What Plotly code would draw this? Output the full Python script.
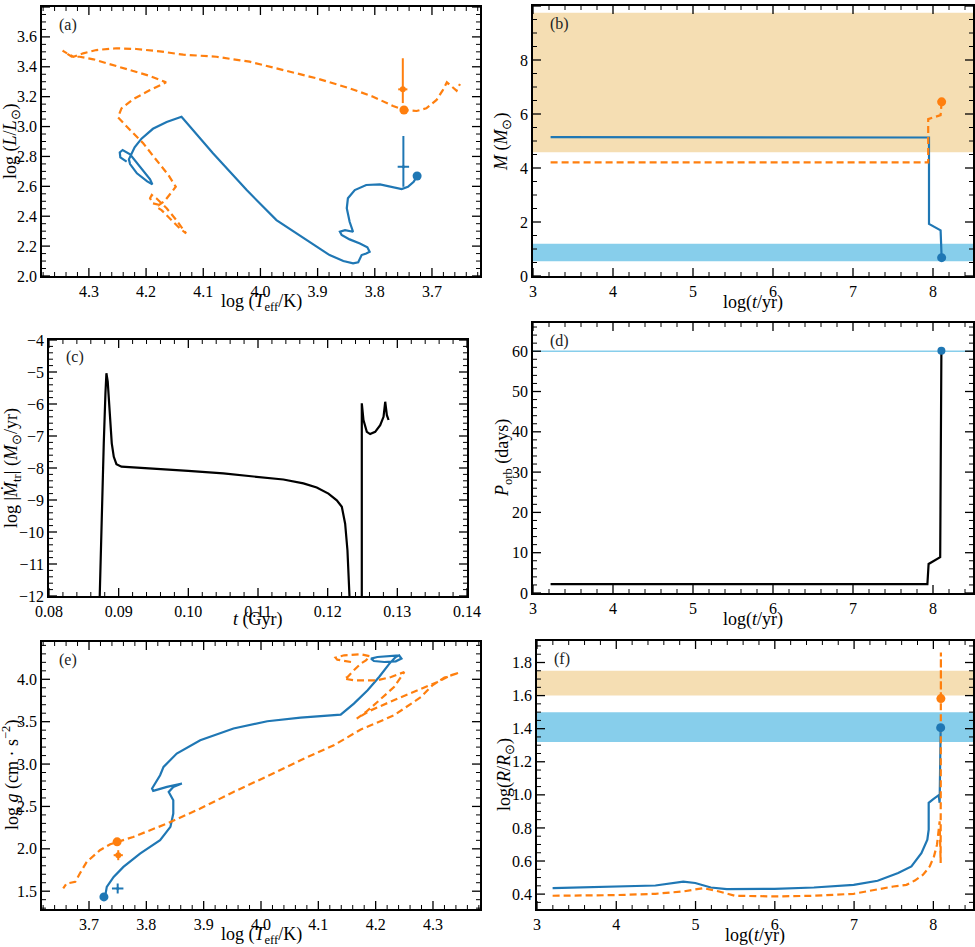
import plotly.graph_objects as go

W, H = 975, 947
BLUE = "#1f77b4"
ORANGE = "#ff7f0e"
TAN = "#f5deb3"
SKY = "#87ceeb"
FONT = "Liberation Serif"

# ---------------- data ----------------
# (a) HR diagram
donor_hr_logT = [4.234, 4.245, 4.246, 4.241, 4.228, 4.211, 4.193, 4.189, 4.198, 4.216, 4.228, 4.230,
                 4.220, 4.208, 4.188, 4.164, 4.138, 4.083, 4.024, 3.972, 3.919, 3.879, 3.855, 3.838,
                 3.829, 3.823, 3.815, 3.809, 3.813, 3.826, 3.844, 3.858, 3.861, 3.852, 3.838, 3.844,
                 3.849, 3.847, 3.835, 3.815, 3.791, 3.771, 3.753, 3.742, 3.732, 3.726]
donor_hr_logL = [2.765, 2.794, 2.827, 2.843, 2.814, 2.736, 2.647, 2.613, 2.633, 2.687, 2.749, 2.781,
                 2.861, 2.919, 2.985, 3.030, 3.066, 2.821, 2.575, 2.374, 2.240, 2.140, 2.100, 2.085,
                 2.092, 2.140, 2.151, 2.162, 2.192, 2.218, 2.245, 2.274, 2.296, 2.307, 2.296, 2.363,
                 2.453, 2.520, 2.575, 2.609, 2.613, 2.597, 2.582, 2.597, 2.631, 2.669]
accretor_hr_logT = [4.176, 4.188, 4.193, 4.190, 4.182, 4.164, 4.147, 4.130, 4.141, 4.158, 4.173, 4.182,
                    4.167, 4.148, 4.161, 4.182, 4.205, 4.228, 4.249, 4.243, 4.223, 4.193, 4.165, 4.193,
                    4.228, 4.263, 4.292, 4.316, 4.330, 4.339, 4.346, 4.336, 4.327, 4.319, 4.310, 4.287,
                    4.252, 4.217, 4.176, 4.135, 4.077, 4.019, 3.960, 3.902, 3.844, 3.803, 3.768, 3.749,
                    3.727, 3.710, 3.692, 3.681, 3.674, 3.666, 3.657, 3.651]
accretor_hr_logL = [2.475, 2.486, 2.520, 2.542, 2.520, 2.453, 2.374, 2.285, 2.319, 2.386, 2.441, 2.463,
                    2.504, 2.597, 2.676, 2.776, 2.888, 2.977, 3.062, 3.122, 3.182, 3.244, 3.296, 3.338,
                    3.378, 3.418, 3.450, 3.467, 3.467, 3.490, 3.508, 3.485, 3.467, 3.477, 3.490, 3.512,
                    3.524, 3.519, 3.503, 3.481, 3.467, 3.434, 3.378, 3.323, 3.256, 3.200, 3.137, 3.111,
                    3.104, 3.122, 3.178, 3.244, 3.296, 3.267, 3.240, 3.285]
model_logT = [3.726, 3.749]          # final model: donor, accretor
model_logL = [2.669, 3.111]
model_logg = [1.433, 2.082]
obs_logT = [3.750, 3.751]            # observed: donor, accretor
obs_logT_err = [0.010, 0.008]
obs_logL = [2.731, 3.249]
obs_logL_up = [0.206, 0.208]
obs_logL_dn = [0.134, 0.092]
obs_logg = [1.532, 1.925]
obs_logg_err = [0.059, 0.059]

# (b) masses
donor_m_logt = [3.22, 7.85, 7.93, 7.95, 7.95, 8.095, 8.108]
donor_m = [5.14, 5.14, 5.13, 5.13, 1.93, 1.69, 0.68]
accretor_m_logt = [3.22, 7.94, 7.94, 8.095, 8.095, 8.108]
accretor_m = [4.21, 4.21, 5.81, 5.96, 5.96, 6.45]
donor_m_obs = [0.55, 1.19]
accretor_m_obs = [4.58, 9.75]

# (c) mass-transfer rate
mt_t1 = [0.08728, 0.08757, 0.08786, 0.08810, 0.08824, 0.08843, 0.08872, 0.08901, 0.08930, 0.08968,
         0.09040, 0.09447, 0.09998, 0.10502, 0.11005, 0.11364, 0.11652, 0.11843, 0.12011, 0.12131,
         0.12203, 0.12251, 0.12284, 0.12313]
mt_rate1 = [-12.0, -9.32, -7.23, -5.67, -5.04, -5.30, -6.40, -7.23, -7.65, -7.88,
            -7.96, -8.01, -8.09, -8.17, -8.28, -8.36, -8.48, -8.61, -8.80, -9.01,
            -9.21, -9.74, -10.57, -12.0]
mt_t2 = [0.12490, 0.12490, 0.12514, 0.12562, 0.12610, 0.12682, 0.12754, 0.12802, 0.12826, 0.12850, 0.12874]
mt_rate2 = [-12.0, -5.98, -6.50, -6.87, -6.94, -6.87, -6.66, -6.40, -5.93, -6.35, -6.50]

# (d) orbital period
porb_logt = [3.22, 7.93, 7.945, 8.09, 8.105]
porb_days = [2.2, 2.2, 7.2, 8.9, 60.5]
porb_model = 60.1
porb_obs = 60.0

# (e) log g tracks
donor_g_logT = [3.728, 3.731, 3.743, 3.760, 3.789, 3.824, 3.842, 3.847, 3.847, 3.842, 3.839, 3.847,
                3.862, 3.836, 3.812, 3.810, 3.818, 3.824, 3.830, 3.853, 3.894, 3.952, 4.011, 4.069,
                4.139, 4.162, 4.186, 4.206, 4.224, 4.235, 4.241, 4.245, 4.235, 4.215, 4.197, 4.192,
                4.203, 4.241]
donor_g_logg = [1.433, 1.551, 1.669, 1.787, 1.944, 2.101, 2.259, 2.416, 2.573, 2.632, 2.671, 2.730,
                2.770, 2.730, 2.683, 2.711, 2.801, 2.868, 2.966, 3.124, 3.281, 3.419, 3.505, 3.548,
                3.583, 3.713, 3.870, 4.027, 4.185, 4.263, 4.283, 4.244, 4.212, 4.204, 4.216, 4.244,
                4.263, 4.283]
accretor_g_logT = [4.157, 4.133, 4.130, 4.145, 4.174, 4.190, 4.183, 4.174, 4.162, 4.151, 4.145, 4.162,
                   4.203, 4.227, 4.250, 4.232, 4.203, 4.183, 4.167, 4.189, 4.238, 4.279, 4.308, 4.331,
                   4.346, 4.320, 4.299, 4.279, 4.232, 4.174, 4.127, 4.069, 4.011, 3.952, 3.894, 3.836,
                   3.777, 3.750, 3.737, 3.719, 3.696, 3.684, 3.676, 3.661, 3.655]
accretor_g_logg = [4.204, 4.232, 4.256, 4.283, 4.295, 4.271, 4.224, 4.185, 4.106, 4.027, 4.008, 3.988,
                   3.988, 4.027, 4.086, 3.909, 3.732, 3.614, 3.536, 3.626, 3.772, 3.890, 3.969, 4.047,
                   4.079, 4.020, 3.929, 3.791, 3.575, 3.407, 3.222, 3.045, 2.856, 2.671, 2.475, 2.298,
                   2.140, 2.082, 2.054, 1.983, 1.846, 1.709, 1.610, 1.591, 1.532]

# (f) radii
donor_r_logt = [3.197, 3.996, 4.494, 4.845, 4.996, 5.193, 5.394, 5.996, 6.493, 6.995, 7.297, 7.556,
                7.723, 7.849, 7.924, 7.941, 7.941, 7.995, 8.067, 8.079, 8.092]
donor_logR = [0.436, 0.446, 0.452, 0.476, 0.467, 0.440, 0.430, 0.432, 0.440, 0.456, 0.481, 0.527,
              0.567, 0.648, 0.729, 0.790, 0.952, 0.972, 0.998, 0.952, 1.406]
accretor_r_logt = [3.197, 3.996, 4.494, 4.845, 5.096, 5.297, 5.494, 5.996, 6.493, 6.995, 7.494, 7.661,
                   7.766, 7.870, 7.954, 8.008, 8.046, 8.067, 8.079, 8.092, 8.095, 8.095]
accretor_logR = [0.390, 0.394, 0.402, 0.416, 0.436, 0.416, 0.390, 0.386, 0.390, 0.402, 0.446, 0.456,
                 0.482, 0.517, 0.567, 0.628, 0.699, 0.770, 0.840, 0.588, 1.861, 1.582]
donor_r_obs = [1.32, 1.50]
accretor_r_obs = [1.60, 1.75]

# ---------------- layout helpers ----------------
# plot-area boxes in pixels: (left, right, top, bottom)
boxes = {
    1: (42, 480, 7, 276),
    2: (533, 973, 6, 276),
    3: (49, 467, 340, 596),
    4: (533, 973, 323, 593),
    5: (42, 480, 642, 909),
    6: (537, 973, 641, 909),
}
shapes = []


def sfx_of(n):
    return "" if n == 1 else str(n)


def tick_marks(n, which, rng, dtick, minor):
    # inward major/minor ticks on both sides of the frame
    l, r, t, b = boxes[n]
    s = sfx_of(n)
    span = (b - t) if which == "x" else (r - l)
    lo, hi = min(rng), max(rng)
    k0 = int(lo / minor) - 1
    k1 = int(hi / minor) + 1
    for k in range(k0, k1 + 1):
        v = k * minor
        if v < lo - 1e-9 or v > hi + 1e-9:
            continue
        major = abs(v / dtick - round(v / dtick)) < 1e-6
        frac = (8 if major else 4) / span
        w = 1.3 if major else 1.0
        for a0, a1 in ((0, frac), (1 - frac, 1)):
            if which == "x":
                shapes.append(dict(type="line", xref="x" + s, yref="y" + s + " domain",
                                   x0=v, x1=v, y0=a0, y1=a1, line=dict(color="black", width=w)))
            else:
                shapes.append(dict(type="line", yref="y" + s, xref="x" + s + " domain",
                                   y0=v, y1=v, x0=a0, x1=a1, line=dict(color="black", width=w)))


def axis(n, which, rng, dtick, minor, fmt=None):
    l, r, t, b = boxes[n]
    dom = [l / W, r / W] if which == "x" else [1 - b / H, 1 - t / H]
    tick_marks(n, which, rng, dtick, minor)
    d = dict(
        domain=dom, range=rng, dtick=dtick,
        showline=True, linecolor="black", linewidth=1.5, mirror=True,
        ticks="", showgrid=False, zeroline=False, automargin=False,
        tickfont=dict(family=FONT, size=16, color="black"),
        anchor=("y" if which == "x" else "x") + sfx_of(n),
    )
    if fmt:
        d["tickformat"] = fmt
    return d


fig = go.Figure()


def line(n, x, y, color, dash=None, width=2.2):
    s = sfx_of(n)
    fig.add_trace(go.Scatter(x=x, y=y, mode="lines", xaxis="x" + s, yaxis="y" + s,
                             line=dict(color=color, width=width, dash=dash), showlegend=False,
                             hoverinfo="skip"))


def dot(n, x, y, color, size=9):
    s = sfx_of(n)
    fig.add_trace(go.Scatter(x=x, y=y, mode="markers", xaxis="x" + s, yaxis="y" + s,
                             marker=dict(color=color, size=size), showlegend=False, hoverinfo="skip"))


def obs(n, x, xerr, y, yup, ydn, color, size):
    s = sfx_of(n)
    fig.add_trace(go.Scatter(
        x=[x], y=[y], mode="markers", xaxis="x" + s, yaxis="y" + s,
        marker=dict(color=color, size=size),
        error_x=dict(type="data", array=[xerr], color=color, thickness=2, width=0),
        error_y=dict(type="data", symmetric=False, array=[yup], arrayminus=[ydn],
                     color=color, thickness=2, width=0),
        showlegend=False, hoverinfo="skip"))


def band(n, lo, hi, color):
    s = sfx_of(n)
    shapes.append(dict(type="rect", xref="x" + s + " domain", yref="y" + s,
                       x0=0, x1=1, y0=lo, y1=hi, fillcolor=color, opacity=1,
                       line=dict(width=0), layer="below"))


DASH = "7px,4px"

# (a)
line(1, donor_hr_logT, donor_hr_logL, BLUE)
line(1, accretor_hr_logT, accretor_hr_logL, ORANGE, DASH)
dot(1, [model_logT[0]], [model_logL[0]], BLUE)
dot(1, [model_logT[1]], [model_logL[1]], ORANGE)
obs(1, obs_logT[0], obs_logT_err[0], obs_logL[0], obs_logL_up[0], obs_logL_dn[0], BLUE, 3)
obs(1, obs_logT[1], obs_logT_err[1], obs_logL[1], obs_logL_up[1], obs_logL_dn[1], ORANGE, 6)

# (b)
band(2, *accretor_m_obs, TAN)
band(2, *donor_m_obs, SKY)
line(2, donor_m_logt, donor_m, BLUE)
line(2, accretor_m_logt, accretor_m, ORANGE, DASH)
dot(2, [donor_m_logt[-1]], [donor_m[-1]], BLUE)
dot(2, [accretor_m_logt[-1]], [accretor_m[-1]], ORANGE)

# (c)
line(3, mt_t1, mt_rate1, "black")
line(3, mt_t2, mt_rate2, "black")

# (d)
shapes.append(dict(type="line", xref="x4 domain", yref="y4", x0=0, x1=1, y0=porb_obs, y1=porb_obs,
                   line=dict(color=SKY, width=1.5), layer="below"))
line(4, porb_logt, porb_days, "black")
dot(4, [porb_logt[-1]], [porb_model], BLUE, 8)

# (e)
line(5, donor_g_logT, donor_g_logg, BLUE)
line(5, accretor_g_logT, accretor_g_logg, ORANGE, DASH)
dot(5, [model_logT[0]], [model_logg[0]], BLUE)
dot(5, [model_logT[1]], [model_logg[1]], ORANGE)
obs(5, obs_logT[0], obs_logT_err[0], obs_logg[0], obs_logg_err[0], obs_logg_err[0], BLUE, 3)
obs(5, obs_logT[1], obs_logT_err[1], obs_logg[1], obs_logg_err[1], obs_logg_err[1], ORANGE, 6)

# (f)
band(6, *accretor_r_obs, TAN)
band(6, *donor_r_obs, SKY)
line(6, donor_r_logt, donor_logR, BLUE)
line(6, accretor_r_logt, accretor_logR, ORANGE, DASH)
dot(6, [donor_r_logt[-1]], [donor_logR[-1]], BLUE)
dot(6, [accretor_r_logt[-1]], [accretor_logR[-1]], ORANGE)

lay = {}
lay["xaxis"] = axis(1, "x", [4.382, 3.616], 0.1, 0.02, ".1f")
lay["yaxis"] = axis(1, "y", [2.0, 3.8], 0.2, 0.05, ".1f")
lay["xaxis2"] = axis(2, "x", [3, 8.5], 1, 0.2)
lay["yaxis2"] = axis(2, "y", [0, 10], 2, 0.5)
lay["xaxis3"] = axis(3, "x", [0.08, 0.14], 0.01, 0.002, ".2f")
lay["yaxis3"] = axis(3, "y", [-12, -4], 1, 0.2)
lay["xaxis4"] = axis(4, "x", [3, 8.5], 1, 0.2)
lay["yaxis4"] = axis(4, "y", [0, 67], 10, 2)
lay["xaxis5"] = axis(5, "x", [3.618, 4.382], 0.1, 0.02, ".1f")
lay["yaxis5"] = axis(5, "y", [1.29, 4.44], 0.5, 0.1, ".1f")
lay["xaxis6"] = axis(6, "x", [3, 8.5], 1, 0.2)
lay["yaxis6"] = axis(6, "y", [0.31, 1.93], 0.2, 0.05, ".1f")

# axis titles placed by hand: (text, centre x px, centre y px, angle)
teff = "log (<i>T</i><sub>eff</sub>/K)"
tyr = "log(<i>t</i>/yr)"
titles = [
    (teff, 261, 303, 0), ("log (<i>L</i>/<i>L</i><sub>⊙</sub>)", 12, 141, -90),
    (tyr, 753, 303, 0), ("<i>M</i> (<i>M</i><sub>⊙</sub>)", 503, 141, -90),
    ("<i>t</i> (Gyr)", 258, 619, 0),
    ("log |<i>Ṁ</i><sub>tr</sub>| (<i>M</i><sub>⊙</sub>/yr)", 12, 468, -90),
    (tyr, 753, 619, 0), ("<i>P</i><sub>orb</sub> (days)", 503, 458, -90),
    (teff, 261, 935, 0), ("log <i>g</i> (cm · s<sup>−2</sup>)", 11, 775, -90),
    (tyr, 755, 935, 0), ("log(<i>R</i>/<i>R</i><sub>⊙</sub>)", 505, 775, -90),
]
annotations = []
for text, px, py, ang in titles:
    annotations.append(dict(text=text, xref="paper", yref="paper", x=px / W, y=1 - py / H,
                            xanchor="center", yanchor="middle", textangle=ang, showarrow=False,
                            font=dict(family=FONT, size=18, color="black")))
for n, lab in zip(range(1, 7), ["(a)", "(b)", "(c)", "(d)", "(e)", "(f)"]):
    s = sfx_of(n)
    annotations.append(dict(text=lab, xref="x" + s + " domain", yref="y" + s + " domain",
                            x=0.035, y=0.975, xanchor="left", yanchor="top", showarrow=False,
                            font=dict(family=FONT, size=16, color="#222")))

fig.update_layout(
    width=W, height=H, margin=dict(l=0, r=0, t=0, b=0),
    font=dict(family=FONT, size=16, color="black"),
    plot_bgcolor="white", paper_bgcolor="white",
    shapes=shapes, annotations=annotations, showlegend=False, **lay)

# the page body has a default margin; drop it so the figure sits at the window origin
fig.write_html("out.html", config={"displayModeBar": False},
               post_script="document.body.style.margin='0';")
